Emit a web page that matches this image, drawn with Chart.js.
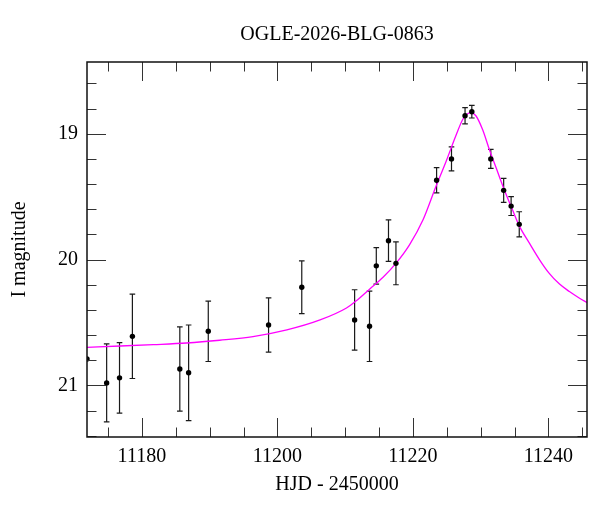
<!DOCTYPE html>
<html>
<head>
<meta charset="utf-8">
<script src="https://cdn.jsdelivr.net/npm/chart.js@4.4.1/dist/chart.umd.min.js"></script>
<style>
  html, body { margin: 0; padding: 0; background: #fff; }
  #wrap { width: 600px; height: 512px; }
</style>
</head>
<body>
<div id="wrap"><canvas id="c" width="600" height="512"></canvas></div>
<script>
// ---- data ----
const obsDays = [11171.9, 11174.8, 11176.7, 11178.6, 11185.6, 11186.9, 11189.8, 11198.7, 11203.6,
                 11211.4, 11213.6, 11214.6, 11216.4, 11217.5, 11223.5, 11225.7, 11227.7, 11228.7,
                 11231.5, 11233.4, 11234.5, 11235.7];
const obsMags = [20.79, 20.98, 20.94, 20.61, 20.87, 20.90, 20.57, 20.52, 20.22,
                 20.48, 20.53, 20.05, 19.85, 20.03, 19.37, 19.20, 18.857, 18.825,
                 19.20, 19.45, 19.575, 19.72];
const obsErrs = [0, 0.31, 0.28, 0.335, 0.335, 0.38, 0.24, 0.215, 0.21,
                 0.24, 0.28, 0.145, 0.165, 0.17, 0.10, 0.095, 0.065, 0.05,
                 0.075, 0.095, 0.075, 0.10];

const modelDays = [11171.9, 11176.8, 11181.7, 11186.6, 11191.5, 11196.4, 11201.4, 11206.3, 11210.2,
                   11211.6, 11213.6, 11215.6, 11217.5, 11219.5, 11221.5, 11223.4, 11224.9, 11226.4,
                   11227.4, 11228.5, 11229.3, 11230.3, 11231.3, 11232.3, 11233.3, 11234.7, 11235.7,
                   11237.2, 11238.7, 11240.1, 11241.6, 11243.1, 11244.6, 11245.7];
const modelMags = [20.697, 20.687, 20.676, 20.663, 20.641, 20.612, 20.559, 20.48, 20.385,
                   20.33, 20.235, 20.14, 20.03, 19.883, 19.684, 19.419, 19.22, 19.008,
                   18.883, 18.832, 18.857, 18.968, 19.127, 19.273, 19.419, 19.605, 19.732,
                   19.870, 20.002, 20.108, 20.193, 20.254, 20.307, 20.342];

const xTickLabels = [11180, 11200, 11220, 11240];
const yTickLabels = [19, 20, 21];
const xMinorStep = 5;
const yMinorStep = 0.2;

const titleText = 'OGLE-2026-BLG-0863';
const xTitle = 'HJD - 2450000';
const yTitle = 'I magnitude';

// ---- styling ----
const FONT = 'Liberation Serif';
Chart.defaults.color = '#000';
Chart.defaults.font.family = FONT;

const errorBars = {
  id: 'errorBars',
  beforeDatasetsDraw(chart) {
    const {ctx, chartArea: a, scales: {x, y}} = chart;
    ctx.save();
    ctx.beginPath();
    ctx.rect(a.left, a.top, a.right - a.left, a.bottom - a.top);
    ctx.clip();
    ctx.strokeStyle = '#1a1a1a';
    ctx.lineWidth = 1.2;
    obsDays.forEach((d, i) => {
      const e = obsErrs[i];
      if (!e) return;
      const px = x.getPixelForValue(d);
      const p1 = y.getPixelForValue(obsMags[i] - e);
      const p2 = y.getPixelForValue(obsMags[i] + e);
      ctx.beginPath();
      ctx.moveTo(px, p1); ctx.lineTo(px, p2);
      ctx.moveTo(px - 2.8, p1); ctx.lineTo(px + 2.8, p1);
      ctx.moveTo(px - 2.8, p2); ctx.lineTo(px + 2.8, p2);
      ctx.stroke();
    });
    ctx.restore();
  }
};

const frameTicks = {
  id: 'frameTicks',
  afterDraw(chart) {
    const {ctx, chartArea: a, scales: {x, y}} = chart;
    const MAJ = 19, MIN = 9.5;
    ctx.save();
    ctx.strokeStyle = '#333';
    ctx.lineWidth = 1;
    ctx.beginPath();
    const xs = Math.ceil(x.min / xMinorStep) * xMinorStep;
    for (let v = xs; v <= x.max + 1e-9; v += xMinorStep) {
      const px = Math.round(x.getPixelForValue(v)) + 0.5;
      const len = xTickLabels.includes(v) ? MAJ : MIN;
      ctx.moveTo(px, a.bottom); ctx.lineTo(px, a.bottom - len);
      ctx.moveTo(px, a.top); ctx.lineTo(px, a.top + len);
    }
    const lo = Math.min(y.min, y.max), hi = Math.max(y.min, y.max);
    const ys = Math.ceil(lo / yMinorStep - 1e-9);
    for (let k = ys; k * yMinorStep <= hi + 1e-9; k++) {
      const v = +(k * yMinorStep).toFixed(3);
      const py = Math.round(y.getPixelForValue(v)) + 0.5;
      const len = yTickLabels.some(t => Math.abs(t - v) < 1e-6) ? MAJ : MIN;
      ctx.moveTo(a.left, py); ctx.lineTo(a.left + len, py);
      ctx.moveTo(a.right, py); ctx.lineTo(a.right - len, py);
    }
    ctx.stroke();
    ctx.strokeStyle = '#111';
    ctx.lineWidth = 1.5;
    ctx.strokeRect(a.left, a.top, a.right - a.left, a.bottom - a.top);
    ctx.restore();
  }
};

new Chart(document.getElementById('c'), {
  type: 'scatter',
  data: {
    datasets: [
      {
        type: 'scatter',
        label: 'OGLE I',
        data: obsDays.map((d, i) => ({x: d, y: obsMags[i]})),
        pointRadius: 2.7,
        pointBackgroundColor: '#000',
        pointBorderWidth: 0,
        clip: 0,
        order: 1
      },
      {
        type: 'line',
        label: 'model',
        data: modelDays.map((d, i) => ({x: d, y: modelMags[i]})),
        showLine: true,
        borderColor: '#ff00ff',
        borderWidth: 1.3,
        pointRadius: 0,
        fill: false,
        cubicInterpolationMode: 'monotone',
        clip: 0,
        order: 2
      }
    ]
  },
  options: {
    responsive: false,
    animation: false,
    layout: { padding: { left: 0, right: 13, top: 0, bottom: 0 } },
    plugins: {
      legend: { display: false },
      tooltip: { enabled: false },
      title: {
        display: true,
        text: titleText,
        fullSize: false,
        color: '#000',
        font: { family: FONT, size: 20, weight: 'normal' },
        padding: { top: 23, bottom: 15 }
      }
    },
    scales: {
      x: {
        type: 'linear',
        position: 'bottom',
        min: 11171.9,
        max: 11245.7,
        grid: { display: false, drawTicks: false },
        border: { display: false },
        afterBuildTicks: s => { s.ticks = xTickLabels.map(v => ({value: v})); },
        afterFit: s => { s.height = 75; },
        ticks: {
          padding: 8,
          maxRotation: 0,
          color: '#000',
          font: { family: FONT, size: 20 },
          callback: v => String(v)
        },
        title: {
          display: true,
          text: xTitle,
          color: '#000',
          font: { family: FONT, size: 20 },
          padding: { top: 4, bottom: 15 }
        }
      },
      y: {
        type: 'linear',
        position: 'left',
        reverse: true,
        min: 18.43,
        max: 21.41,
        grid: { display: false, drawTicks: false },
        border: { display: false },
        afterBuildTicks: s => { s.ticks = yTickLabels.map(v => ({value: v})); },
        afterFit: s => { s.width = 87; },
        ticks: {
          padding: 9,
          color: '#000',
          font: { family: FONT, size: 20 },
          callback: v => String(v)
        },
        title: {
          display: true,
          text: yTitle,
          color: '#000',
          font: { family: FONT, size: 20 },
          padding: { top: 8, bottom: 0 }
        }
      }
    }
  },
  plugins: [errorBars, frameTicks]
});
</script>
</body>
</html>
